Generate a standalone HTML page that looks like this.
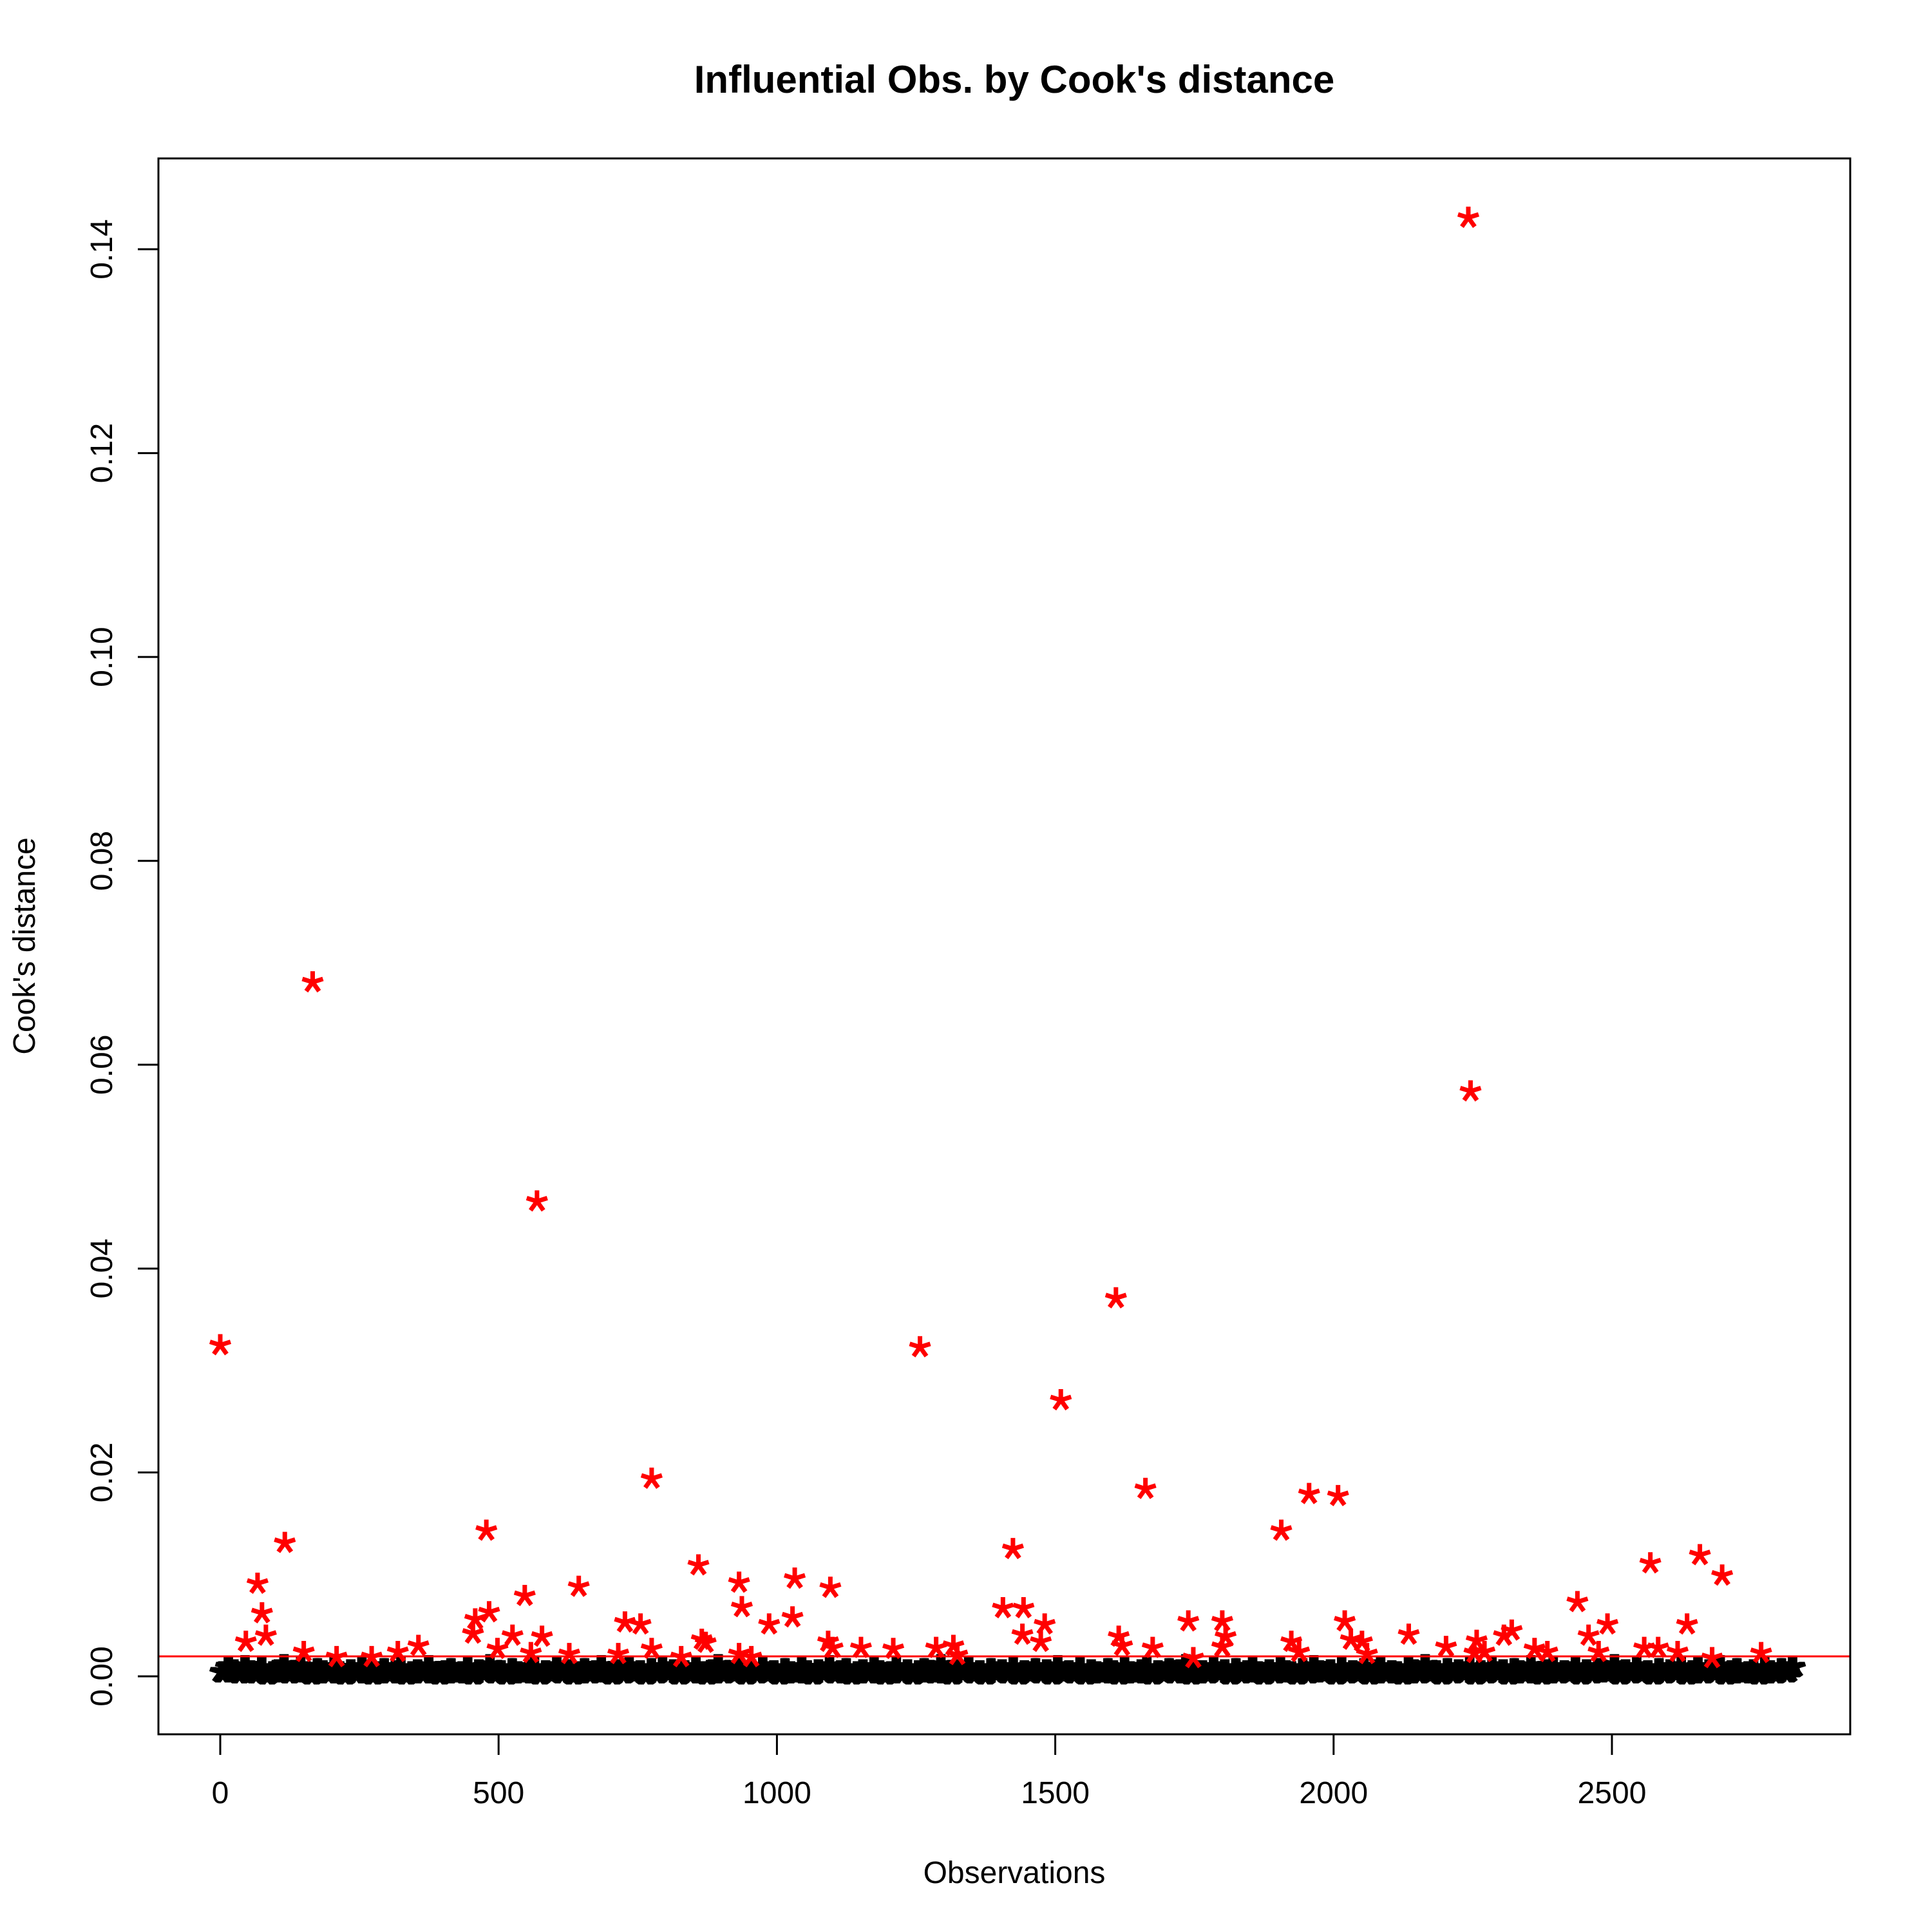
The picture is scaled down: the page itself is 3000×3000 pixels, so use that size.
<!DOCTYPE html>
<html><head><meta charset="utf-8"><title>Influential Obs. by Cook's distance</title>
<style>html,body{margin:0;padding:0;background:#fff}svg{display:block}text{font-family:"Liberation Sans",Arial,sans-serif}</style>
</head><body>
<svg id="chart" width="3000" height="3000" viewBox="0 0 3000 3000" xmlns="http://www.w3.org/2000/svg">
<rect width="3000" height="3000" fill="#fff"/>
<defs>
<path id="ast" d="M0,-17 L0,0 M0,0 L-16,-5 M0,0 L16,-5 M0,0 L-10,14 M0,0 L10,14" stroke-linecap="butt"/>
</defs>
<text x="1575" y="144" font-size="60" font-weight="bold" text-anchor="middle">Influential Obs. by Cook's distance</text>
<text x="1575" y="2924" font-size="48" text-anchor="middle">Observations</text>
<text transform="translate(54,1469) rotate(-90)" font-size="48" text-anchor="middle">Cook's distance</text>
<g id="xaxis"></g>
<g id="yaxis"></g>
<g id="black" stroke="#000" stroke-width="7" fill="none"></g>
<g id="red" stroke="#ff0000" stroke-width="7" fill="none"></g>
<line id="thr" stroke="#ff0000" stroke-width="3"/>
<rect x="246" y="246" width="2627" height="2447" fill="none" stroke="#000" stroke-width="3"/>
</svg>
<script>
const xTicks = [0, 500, 1000, 1500, 2000, 2500];
const yTicks = [0, 0.02, 0.04, 0.06, 0.08, 0.10, 0.12, 0.14];
const yTickLabels = ["0.00","0.02","0.04","0.06","0.08","0.10","0.12","0.14"];
const threshold = 0.00196;
const groupSize = 10;
const blackVals = [
0.0004,0.0009,0.0006,0.0003,0.0010,0.0005,0.0003,0.0008,0.0002,0.0004,0.0006,0.0011,0.0003,0.0005,0.0009,0.0004,0.0002,0.0007,0.0005,0.0003,
0.0008,0.0004,0.0002,0.0006,0.0003,0.0009,0.0005,0.0002,0.0004,0.0007,0.0003,0.0005,0.0008,0.0002,0.0004,0.0006,0.0003,0.0010,0.0004,0.0002,
0.0005,0.0007,0.0003,0.0004,0.0009,0.0002,0.0006,0.0004,0.0011,0.0003,0.0005,0.0002,0.0007,0.0004,0.0003,0.0006,0.0008,0.0002,0.0005,0.0004,
0.0009,0.0003,0.0006,0.0002,0.0004,0.0007,0.0003,0.0005,0.0010,0.0004,0.0002,0.0006,0.0003,0.0008,0.0004,0.0005,0.0002,0.0007,0.0003,0.0009,
0.0004,0.0006,0.0002,0.0005,0.0003,0.0008,0.0004,0.0002,0.0006,0.0011,0.0003,0.0005,0.0004,0.0007,0.0002,0.0006,0.0003,0.0009,0.0004,0.0005,
0.0002,0.0007,0.0004,0.0003,0.0008,0.0005,0.0002,0.0006,0.0004,0.0010,0.0003,0.0005,0.0007,0.0002,0.0004,0.0006,0.0003,0.0008,0.0005,0.0002,
0.0004,0.0009,0.0003,0.0006,0.0002,0.0005,0.0007,0.0004,0.0003,0.0011,0.0005,0.0002,0.0006,0.0004,0.0008,0.0003,0.0005,0.0002,0.0007,0.0004,
0.0006,0.0003,0.0009,0.0002,0.0005,0.0004,0.0007,0.0003,0.0006,0.0002,0.0010,0.0004,0.0005,0.0003,0.0008,0.0002,0.0006,0.0004,0.0003,0.0007,
0.0005,0.0002,0.0009,0.0004,0.0003,0.0006,0.0008,0.0002,0.0005,0.0004,0.0007,0.0003,0.0006,0.0011,0.0002,0.0004,0.0005,0.0003,0.0008,0.0004,
0.0006,0.0002,0.0007,0.0003,0.0005,0.0009,0.0004,0.0002,0.0006,0.0003,0.0008,0.0005,0.0004,0.0002,0.0007,0.0003,0.0010,0.0005,0.0004,0.0006,
0.0002,0.0008,0.0003,0.0005,0.0004,0.0007,0.0002,0.0006,0.0009,0.0003,0.0005,0.0004,0.0002,0.0008,0.0006,0.0003,0.0011,0.0004,0.0005,0.0002,
0.0007,0.0003,0.0006,0.0004,0.0009,0.0002,0.0005,0.0003,0.0008,0.0004,0.0006,0.0002,0.0007,0.0005,0.0003,0.0010,0.0004,0.0002,0.0006,0.0008,
0.0003,0.0005,0.0004,0.0009,0.0002,0.0006,0.0003,0.0007,0.0005,0.0004,0.0011,0.0002,0.0006,0.0003,0.0008,0.0004,0.0005,0.0002,0.0007,0.0003,
0.0006,0.0004,0.0009,0.0002,0.0005,0.0008,0.0003,0.0006,0.0004,0.0010,0.0002,0.0005,0.0007,0.0003,0.0004,0.0006,0.0002,0.0008,0.0005,0.0003,
0.0007,0.0004,0.0009
];
const redObs = [0,166,569,775,1257,1510,1609,1662,1906,1956,2008,2242,2246,116,67,75,82,46,478,458,454,483,547,644,859,932,937,1032,1028,1096,986,1424,1406,1443,1481,1441,1474,727,755,525,578,498,558,356,319,865,872,1092,1100,1151,1209,1286,1317,1324,715,775,828,932,954,1614,1620,1675,1739,1748,1800,1806,1800,1924,1938,2020,2031,2051,2060,2135,2202,2257,2253,2271,2306,2320,2361,2384,2438,2458,2476,2492,2569,2558,2583,2635,2618,2658,2698,2680,2768,150,209,272,627];
const redVals = [0.0325,0.0681,0.0466,0.0194,0.0323,0.0271,0.0371,0.0184,0.0143,0.0179,0.0177,0.1431,0.0574,0.0131,0.0091,0.0062,0.0040,0.0034,0.0143,0.0056,0.0042,0.0063,0.0079,0.0088,0.0109,0.0092,0.0068,0.0096,0.0058,0.0087,0.0051,0.0125,0.0067,0.0067,0.0051,0.0041,0.0034,0.0053,0.0051,0.0040,0.0039,0.0027,0.0023,0.0030,0.0024,0.0036,0.0033,0.0034,0.0028,0.0028,0.0027,0.0028,0.0030,0.0021,0.0022,0.0027,0.0019,0.0022,0.0019,0.0039,0.0030,0.0028,0.0054,0.0018,0.0054,0.0039,0.0029,0.0034,0.0024,0.0054,0.0036,0.0034,0.0022,0.0041,0.0029,0.0035,0.0023,0.0024,0.0040,0.0045,0.0027,0.0024,0.0073,0.0040,0.0024,0.0051,0.0111,0.0028,0.0028,0.0051,0.0024,0.0119,0.0099,0.0018,0.0023,0.0024,0.0019,0.0019,0.0022];

const NS = "http://www.w3.org/2000/svg";
const X0 = 342, XPER = (2503 - 342) / 2500;
const Y0 = 2603, YPER = (2603 - 387) / 0.14;
function xs(v){ return X0 + v * XPER; }
function ys(v){ return Y0 - v * YPER; }
function mk(tag, attrs){ const e = document.createElementNS(NS, tag); for (const k in attrs) e.setAttribute(k, attrs[k]); return e; }

const xa = document.getElementById('xaxis');
const xl = mk('line', {x1: xs(xTicks[0]), x2: xs(xTicks[xTicks.length-1]), y1: 2693, y2: 2693, stroke: '#000', 'stroke-width': 3});


xa.appendChild(xl);
xTicks.forEach(t => {
  const tk = mk('line', {x1: xs(t), x2: xs(t), y1: 2693, y2: 2725, stroke: '#000', 'stroke-width': 3});
  
  
  xa.appendChild(tk);
  const tx = mk('text', {x: xs(t), y: 2800, 'font-size': 48, 'text-anchor': 'middle'});
  tx.textContent = String(t);
  
  
  xa.appendChild(tx);
});
const ya = document.getElementById('yaxis');
const yl = mk('line', {x1: 246, x2: 246, y1: ys(yTicks[0]), y2: ys(yTicks[yTicks.length-1]), stroke: '#000', 'stroke-width': 3});


ya.appendChild(yl);
yTicks.forEach((t, i) => {
  const tk = mk('line', {x1: 214, x2: 246, y1: ys(t), y2: ys(t), stroke: '#000', 'stroke-width': 3});
  
  
  ya.appendChild(tk);
  const tx = mk('text', {transform: 'translate(174,' + ys(t) + ') rotate(-90)', 'font-size': 48, 'text-anchor': 'middle'});
  tx.textContent = yTickLabels[i];
  
  
  ya.appendChild(tx);
});

const bg = document.getElementById('black');
blackVals.forEach((v, g) => {
  for (let j = 0; j < groupSize; j++) {
    const obs = g * groupSize + j;
    const u = mk('use', {href: '#ast', x: xs(obs), y: ys(v)});
    
    
    bg.appendChild(u);
  }
});
const rg = document.getElementById('red');
redObs.forEach((o, i) => {
  const u = mk('use', {href: '#ast', x: xs(o), y: ys(redVals[i])});
  
  
  rg.appendChild(u);
});
const th = document.getElementById('thr');
th.setAttribute('x1', 247); th.setAttribute('x2', 2872);
th.setAttribute('y1', ys(threshold)); th.setAttribute('y2', ys(threshold));
</script>
</body></html>
